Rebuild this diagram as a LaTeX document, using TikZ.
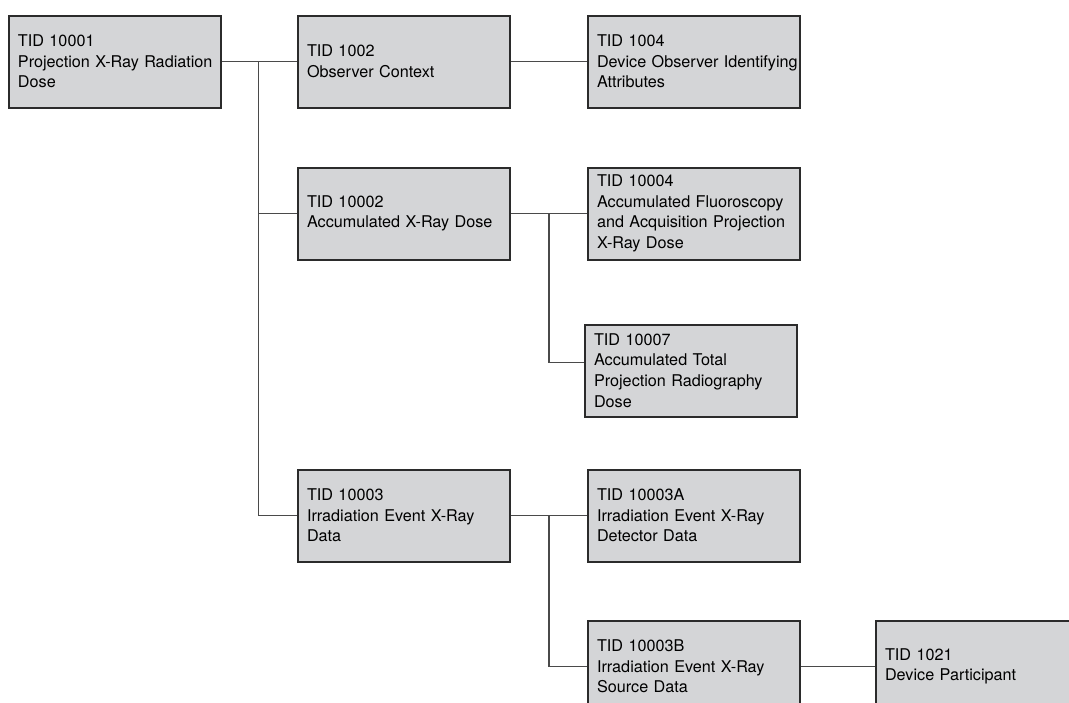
\documentclass[tikz,border=0pt]{standalone}
\usepackage{fontspec}
\setmainfont{TeX Gyre Heros}
\usepackage{tikz}
\usetikzlibrary{positioning}
\definecolor{boxfill}{HTML}{D4D5D7}
\definecolor{boxline}{HTML}{2B2B2B}
\definecolor{linkgray}{HTML}{4A4A4A}

\begin{document}
\begin{tikzpicture}[
  tid/.style={rectangle, draw=boxline, fill=boxfill, line width=1pt,
              minimum width=106pt, minimum height=46pt, text width=97pt,
              inner xsep=4.5pt, align=left,
              font=\fontsize{8.1}{10.3}\selectfont},
  link/.style={draw=linkgray, line width=0.85pt},
  node distance=37.5pt,
]
  \useasboundingbox (0,0) rectangle (534.5pt,-351pt);

  \node[tid] (t10001) at (57.5pt,-30.75pt) {TID 10001\\\mbox{Projection X-Ray Radiation}\\Dose};
  \node[tid, right=of t10001]      (t1002)  {TID 1002\\Observer Context};
  \node[tid, right=38pt of t1002]  (t1004)  {TID 1004\\\mbox{Device Observer Identifying}\\Attributes};
  \node[tid, below=29pt of t1002]  (t10002) {TID 10002\\Accumulated X-Ray Dose};
  \node[tid, right=38pt of t10002] (t10004) {TID 10004\\\mbox{Accumulated Fluoroscopy}\\\mbox{and Acquisition Projection}\\X-Ray Dose};
  \node[tid, below=31.5pt of t10004, xshift=-1.5pt] (t10007) {TID 10007\\Accumulated Total\\\mbox{Projection Radiography}\\Dose};
  \node[tid, below=104pt of t10002]  (t10003)  {TID 10003\\Irradiation Event X-Ray\\Data};
  \node[tid, right=38pt of t10003]   (t10003A) {TID 10003A\\Irradiation Event X-Ray\\Detector Data};
  \node[tid, below=28.5pt of t10003A] (t10003B) {TID 10003B\\Irradiation Event X-Ray\\Source Data};
  \node[tid, right=37pt of t10003B]  (t1021)   {TID 1021\\Device Participant};

  % branch points
  \coordinate[right=18.25pt of t10001.east] (j1);
  \coordinate[right=19pt of t10002.east]    (j2);
  \coordinate[right=19pt of t10003.east]    (j3);

  \draw[link] (t10001) -- (t1002);
  \draw[link] (t1002) -- (t1004);
  \draw[link] (j1) |- (t10002.west);
  \draw[link] (j1) |- (t10003.west);
  \draw[link] (t10002) -- (t10004);
  \draw[link] (j2) |- ([yshift=4pt]t10007.west);
  \draw[link] (t10003) -- (t10003A);
  \draw[link] (j3) |- (t10003B.west);
  \draw[link] (t10003B) -- (t1021);
\end{tikzpicture}
\end{document}
